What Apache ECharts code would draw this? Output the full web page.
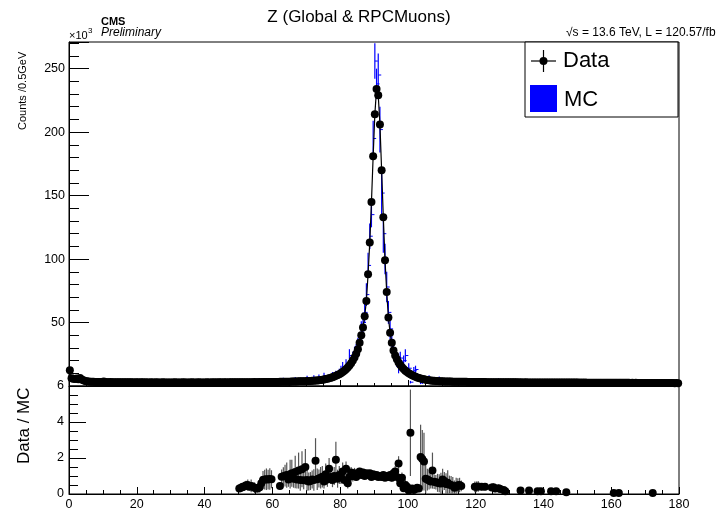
<!DOCTYPE html>
<html><head><meta charset="utf-8">
<script src="https://cdn.jsdelivr.net/npm/echarts@6/dist/echarts.min.js"></script>
<style>html,body{margin:0;padding:0;background:#fff}#c{width:718px;height:512px}</style>
</head><body><div id="c"></div>
<script>
// ---- Data (counts in units of 10^3 per 0.5 GeV bin, bins 0..180 GeV) ----
const binWidth = 0.5;
const dataCounts = [
  12.5, 6.2, 5.8, 5.6, 6.0, 5.4, 6.4, 5.2, 4.6, 4.0, 3.7, 3.5, 3.4, 3.3, 3.3, 3.2, 3.2, 3.1, 3.1, 3.0,
  3.6, 3.1, 3.0, 3.0, 3.1, 3.0, 2.9, 3.0, 3.0, 2.9, 3.0, 2.9, 2.9, 3.0, 2.9, 2.9, 3.0, 2.9, 2.8, 2.9,
  2.9, 2.8, 2.9, 2.9, 2.8, 2.9, 2.8, 2.8, 2.9, 2.8, 2.8, 2.9, 2.8, 2.8, 2.8, 2.9, 2.8, 2.8, 2.8, 2.8,
  2.8, 2.8, 2.9, 2.8, 2.8, 2.8, 2.8, 2.9, 2.8, 2.8, 2.8, 2.8, 2.9, 2.8, 2.8, 2.8, 2.9, 2.8, 2.8, 2.8,
  2.8, 2.9, 2.8, 2.8, 2.9, 2.8, 2.9, 2.8, 2.9, 2.9, 2.8, 2.9, 2.9, 2.8, 2.9, 2.9, 2.9, 2.9, 2.9, 3.0,
  2.9, 3.0, 2.9, 3.0, 3.0, 2.9, 3.0, 3.0, 3.0, 3.1, 3.0, 3.0, 3.1, 3.0, 3.1, 3.1, 3.1, 3.1, 3.2, 3.1,
  3.2, 3.2, 3.2, 3.2, 3.3, 3.3, 3.3, 3.3, 3.4, 3.4, 3.4, 3.45, 3.5, 3.55, 3.6, 3.65, 3.7, 3.7, 3.75, 3.8,
  3.85, 3.9, 4.0, 4.1, 4.2, 4.3, 4.4, 4.6, 4.8, 5.0, 5.2, 5.5, 5.8, 6.1, 6.5, 6.9, 7.4, 8.0, 8.6, 9.3,
  10.1, 11.0, 12.0, 13.2, 14.6, 16.2, 18.0, 20.0, 22.5, 25.5, 29, 34, 40, 46, 55, 67, 88, 113, 145, 181,
  214, 234, 229, 206, 170, 133, 99, 74, 54, 42, 34, 28, 24, 21, 18.5, 16.5, 14.8, 13.3, 12.0, 11.0,
  10.0, 9.2, 8.4, 7.8, 7.2, 6.7, 6.3, 5.9, 5.6, 5.3, 5.0, 4.8, 4.6, 4.4, 4.2, 4.1, 4.0, 3.9, 3.8, 3.7,
  3.65, 3.6, 3.55, 3.5, 3.5, 3.45, 3.4, 3.4, 3.35, 3.35, 3.3, 3.3, 3.3, 3.25, 3.25, 3.2, 3.2, 3.2, 3.2, 3.15,
  3.15, 3.1, 3.1, 3.1, 3.1, 3.1, 3.05, 3.05, 3.0, 3.0, 3.0, 3.0, 3.0, 3.0, 2.95, 3.0, 2.95, 2.95, 2.9, 2.95,
  2.9, 2.9, 2.9, 2.9, 2.9, 2.85, 2.9, 2.85, 2.85, 2.9, 2.85, 2.85, 2.85, 2.8, 2.85, 2.8, 2.8, 2.85, 2.8, 2.8,
  2.8, 2.8, 2.8, 2.75, 2.8, 2.75, 2.8, 2.75, 2.75, 2.75, 2.75, 2.7, 2.75, 2.7, 2.75, 2.7, 2.7, 2.7, 2.7, 2.7,
  2.7, 2.65, 2.7, 2.65, 2.7, 2.65, 2.65, 2.65, 2.6, 2.65, 2.6, 2.65, 2.6, 2.6, 2.6, 2.6, 2.55, 2.6, 2.55, 2.6,
  2.55, 2.55, 2.55, 2.5, 2.55, 2.5, 2.55, 2.5, 2.5, 2.5, 2.5, 2.45, 2.5, 2.45, 2.5, 2.45, 2.45, 2.45, 2.4, 2.45,
  2.4, 2.45, 2.4, 2.4, 2.4, 2.35, 2.4, 2.35, 2.35, 2.35, 2.35, 2.3, 2.35, 2.3, 2.3, 2.3, 2.3, 2.25, 2.3, 2.25
];

// MC (blue, with error bars) where visible
const mcX = [52.25, 55.75, 58.25, 63.25, 66.75, 70.25, 72.25, 73.75, 75.25, 76.25, 76.75, 77.25, 77.75, 78.25, 78.75, 79.25, 79.75,
  80.25, 80.75, 81.25, 81.75, 82.25, 82.75, 83.25, 83.75, 84.25, 84.75, 85.25, 85.75, 86.25, 86.75, 87.25, 87.75, 88.25, 88.75,
  89.25, 89.75, 90.25, 90.75, 91.25, 91.75, 92.25, 92.75, 93.25, 93.75, 94.25, 94.75, 95.25, 95.75, 96.25, 96.75, 97.25, 97.75,
  98.25, 98.75, 99.25, 99.75, 100.25, 100.75, 101.25, 101.75, 102.25, 102.75, 103.25, 103.75, 104.25, 106.25, 109.25, 126.75];
const mcY = [4.0, 4.5, 4.2, 5.0, 5.5, 6.0, 6.5, 7.0, 8.0, 6.5, 5.0, 7.5, 8.5, 8.0, 9.5, 9.0, 10.5,
  12, 14, 13, 16, 15, 24, 19, 22, 25, 28, 32, 36, 44, 50, 58, 72, 95, 118,
  135, 195, 256, 238, 245, 202, 152, 120, 100, 78, 58, 45, 34, 29, 24, 20, 14, 22,
  16, 20, 24, 12, 14, 3, 9, 12, 13, 8, 6, 3, 3, 6.5, 5.5, 4.5];
const mcErr = [1.5, 1.5, 1.5, 1.5, 1.5, 2, 2, 2, 2.5, 1.5, 1.5, 2, 2.5, 2, 2.5, 2.5, 3,
  4, 5, 3, 5, 4, 5, 4, 5, 6, 5, 6, 6, 7, 8, 8, 9, 10, 10,
  10, 14, 14, 12, 17, 18, 18, 15, 12, 12, 9, 8, 6, 6, 5, 5, 4, 5,
  4, 4, 5, 3, 4, 1, 3, 3, 3, 2, 2, 1.5, 1.5, 2, 2, 1.5];

// Ratio Data / MC
const ratioX = [50.25, 50.75, 51.25, 51.75, 52.25, 52.75, 53.25, 53.75, 54.25, 54.75, 55.25, 55.75, 56.25, 56.75, 57.25, 57.75, 58.25, 58.75, 59.25, 59.75,
  62.25, 62.75, 63.25, 63.75, 64.25, 64.75, 65.25, 65.75, 66.25, 66.75, 67.25, 67.75, 68.25, 68.75, 69.25, 69.75,
  70.25, 70.75, 71.25, 71.75, 72.25, 72.75, 73.25, 73.75, 74.25, 74.75, 75.25, 75.75, 76.25, 76.75, 77.25, 77.75, 78.25, 78.75, 79.25, 79.75,
  80.25, 80.75, 81.25, 81.75, 82.25, 82.75, 83.25, 83.75, 84.25, 84.75, 85.25, 85.75, 86.25, 86.75, 87.25, 87.75, 88.25, 88.75, 89.25, 89.75,
  90.25, 90.75, 91.25, 91.75, 92.25, 92.75, 93.25, 93.75, 94.25, 94.75, 95.25, 95.75, 96.25, 96.75, 97.25, 97.75, 98.25, 98.75, 99.25, 99.75,
  100.25, 100.75, 101.25, 101.75, 102.25, 102.75, 103.25, 103.75, 104.25, 104.75, 105.25, 105.75, 106.25, 106.75, 107.25, 107.75, 108.25, 108.75, 109.25, 109.75,
  110.25, 110.75, 111.25, 111.75, 112.25, 112.75, 113.25, 113.75, 114.25, 114.75, 115.25, 115.75,
  119.75, 120.25, 120.75, 121.75, 122.75, 124.75, 125.25, 125.75, 126.75, 127.25, 128.25, 128.75,
  133.25, 135.75, 138.25, 139.25, 142.25, 143.75, 146.75, 160.75, 162.25, 172.25];
const ratioY = [0.30, 0.35, 0.40, 0.42, 0.48, 0.50, 0.40, 0.45, 0.40, 0.35, 0.30, 0.32, 0.38, 0.60, 0.78, 0.80, 0.82, 0.80, 0.83, 0.82,
  0.44, 0.96, 0.98, 1.02, 1.05, 0.80, 1.10, 1.15, 0.85, 1.22, 0.80, 1.30, 0.78, 1.38, 0.76, 1.50,
  0.78, 0.70, 0.72, 0.80, 0.78, 1.85, 0.82, 0.86, 0.90, 0.96, 0.70, 1.10, 0.80, 1.40, 0.95, 0.78, 1.00, 1.90, 0.85, 1.05,
  0.95, 1.25, 0.78, 1.40, 0.60, 0.95, 1.20, 1.00, 1.15, 0.95, 1.10, 1.25, 1.05, 1.20, 1.00, 1.15, 1.05, 1.15, 0.95, 1.10,
  1.00, 1.05, 0.95, 1.00, 0.95, 1.05, 0.90, 1.00, 0.95, 1.05, 0.90, 1.15, 1.25, 0.95, 1.70, 0.60, 0.90, 0.32, 0.50, 0.40,
  0.20, 3.40, 0.30, 0.22, 0.28, 0.35, 0.30, 2.05, 1.95, 1.80, 0.85, 0.80, 0.75, 0.70, 1.30, 0.68, 0.65, 0.62, 0.60, 0.58,
  0.80, 0.72, 0.55, 0.62, 0.52, 0.50, 0.45, 0.35, 0.40, 0.48, 0.50, 0.45,
  0.40, 0.40, 0.42, 0.40, 0.40, 0.36, 0.38, 0.30, 0.32, 0.28, 0.22, 0.15,
  0.20, 0.20, 0.15, 0.15, 0.15, 0.15, 0.10, 0.05, 0.05, 0.05];
const ratioErr = [0.15, 0.2, 0.2, 0.25, 0.25, 0.3, 0.2, 0.35, 0.25, 0.3, 0.2, 0.25, 0.3, 0.4, 0.5, 0.55, 0.6, 0.55, 0.6, 0.5,
  0.2, 0.4, 0.5, 0.6, 0.7, 0.4, 0.8, 0.75, 0.5, 0.9, 0.5, 1.0, 0.6, 1.0, 0.5, 1.0,
  0.6, 0.5, 0.5, 0.5, 0.6, 1.25, 0.6, 0.5, 0.6, 0.6, 0.4, 0.6, 0.4, 0.6, 0.4, 0.4, 0.5, 1.0, 0.5, 0.5,
  0.4, 0.5, 0.3, 0.4, 0.3, 0.3, 0.3, 0.3, 0.3, 0.2, 0.2, 0.2, 0.2, 0.2, 0.15, 0.15, 0.1, 0.1, 0.1, 0.1,
  0.1, 0.1, 0.1, 0.1, 0.1, 0.1, 0.15, 0.15, 0.2, 0.2, 0.2, 0.25, 0.3, 0.3, 0.4, 0.3, 0.3, 0.2, 0.3, 0.3,
  0.2, 2.4, 0.2, 0.15, 0.2, 0.2, 0.2, 1.8, 1.6, 1.6, 0.8, 0.6, 0.5, 0.4, 1.0, 0.4, 0.4, 0.5, 0.5, 0.6,
  0.6, 0.5, 0.6, 0.7, 0.5, 0.5, 0.5, 0.4, 0.5, 0.4, 0.4, 0.3,
  0.3, 0.3, 0.3, 0.2, 0.2, 0.2, 0.2, 0.2, 0.2, 0.2, 0.15, 0.1,
  0.1, 0.1, 0.1, 0.1, 0.1, 0.1, 0.1, 0.05, 0.05, 0.05];

// tick labels
const topYTicks = [50, 100, 150, 200, 250];
const ratioYTicks = [0, 2, 4, 6];
const xTicks = [0, 20, 40, 60, 80, 100, 120, 140, 160, 180];

const FONT = '"Liberation Sans", Arial, Helvetica, sans-serif';
const dataPts = dataCounts.map((v, i) => [i * binWidth + binWidth / 2, v]);
const mcPts = mcX.map((x, i) => [x, mcY[i], mcErr[i]]);
const ratioPts = ratioX.map((x, i) => [x, ratioY[i], ratioErr[i]]);

function errBar(color, cap, yMax) {
  return function (params, api) {
    const x = api.value(0), y = api.value(1), e = api.value(2);
    const top = api.coord([x, Math.min(y + e, yMax)]);
    const bot = api.coord([x, Math.max(y - e, 0)]);
    const c = api.coord([x, y]);
    const ch = [{ type: 'line', shape: { x1: top[0], y1: top[1], x2: bot[0], y2: bot[1] }, style: { stroke: color, lineWidth: 1.2 } }];
    if (cap) ch.push({ type: 'line', shape: { x1: c[0], y1: c[1], x2: c[0] + 3, y2: c[1] }, style: { stroke: color, lineWidth: 1 } });
    return { type: 'group', children: ch };
  };
}

const chart = echarts.init(document.getElementById('c'), null, { renderer: 'canvas' });
const axisLine = { show: true, lineStyle: { color: '#000', width: 1 } };
chart.setOption({
  animation: false,
  backgroundColor: '#fff',
  textStyle: { fontFamily: FONT },
  grid: [
    { left: 69, top: 42, width: 610, height: 344, show: true, borderColor: '#000', borderWidth: 1, backgroundColor: 'transparent' },
    { left: 69, top: 386, width: 610, height: 108, show: true, borderColor: '#000', borderWidth: 1, backgroundColor: 'transparent' }
  ],
  xAxis: [
    { gridIndex: 0, type: 'value', min: 0, max: 180, interval: 20, axisLine,
      axisTick: { inside: true, length: 6, lineStyle: { color: '#000' } },
      minorTick: { show: true, splitNumber: 4, length: 3, lineStyle: { color: '#000' } },
      axisLabel: { show: false }, splitLine: { show: false } },
    { gridIndex: 1, type: 'value', min: 0, max: 180, interval: 20, axisLine,
      axisTick: { inside: true, length: 7, lineStyle: { color: '#000' } },
      minorTick: { show: true, splitNumber: 4, length: 4, lineStyle: { color: '#000' } },
      axisLabel: { color: '#000', fontSize: 12.5, margin: 4, fontFamily: FONT,
        formatter: v => xTicks.includes(v) ? String(v) : '' },
      splitLine: { show: false } }
  ],
  yAxis: [
    { gridIndex: 0, type: 'value', min: 0, max: 271, interval: 50, axisLine,
      axisTick: { inside: true, length: 20, lineStyle: { color: '#000' } },
      minorTick: { show: true, splitNumber: 5, length: 10, lineStyle: { color: '#000' } },
      axisLabel: { color: '#000', fontSize: 12.5, margin: 4, fontFamily: FONT,
        formatter: v => topYTicks.includes(v) ? String(v) : '' },
      splitLine: { show: false } },
    { gridIndex: 1, type: 'value', min: 0, max: 6, interval: 2, axisLine,
      axisTick: { inside: true, length: 17, lineStyle: { color: '#000' } },
      minorTick: { show: true, splitNumber: 4, length: 9, lineStyle: { color: '#000' } },
      axisLabel: { color: '#000', fontSize: 12.5, margin: 5, fontFamily: FONT,
        formatter: v => ratioYTicks.includes(v) ? String(v) : '' },
      splitLine: { show: false } }
  ],
  series: [
    { name: 'MC', type: 'custom', xAxisIndex: 0, yAxisIndex: 0, renderItem: errBar('#0000ff', true, 271),
      data: mcPts, encode: { x: 0, y: 1 }, z: 2 },
    { name: 'Data', type: 'line', xAxisIndex: 0, yAxisIndex: 0, data: dataPts,
      symbol: 'circle', symbolSize: 8, showAllSymbol: true, lineStyle: { color: '#000', width: 1.2 },
      itemStyle: { color: '#000', opacity: 1 }, z: 3 },
    { name: 'RatioErr', type: 'custom', xAxisIndex: 1, yAxisIndex: 1, renderItem: errBar('#555', false, 6),
      data: ratioPts, encode: { x: 0, y: 1 }, z: 2 },
    { name: 'Ratio', type: 'scatter', xAxisIndex: 1, yAxisIndex: 1, data: ratioPts.map(p => [p[0], p[1]]),
      symbol: 'circle', symbolSize: 8, itemStyle: { color: '#000', opacity: 1 }, z: 3 }
  ],
  graphic: [
    { type: 'text', left: 'center', top: 9, style: { text: 'Z (Global & RPCMuons)', font: '17px ' + FONT, fill: '#000' } },
    { type: 'text', x: 101, y: 16, style: { text: 'CMS', font: 'bold 11px ' + FONT, fill: '#000' } },
    { type: 'text', x: 101, y: 27, style: { text: 'Preliminary', font: 'italic 12px ' + FONT, fill: '#000' } },
    { type: 'text', x: 69, y: 30, style: { text: '×10', font: '11px ' + FONT, fill: '#000' } },
    { type: 'text', x: 88, y: 27, style: { text: '3', font: '8px ' + FONT, fill: '#000' } },
    { type: 'text', x: 566, y: 27, style: { text: '√s = 13.6 TeV, L = 120.57/fb', font: '12px ' + FONT, fill: '#000' } },
    { type: 'text', x: 17, y: 130, rotation: Math.PI / 2, style: { text: 'Counts /0.5GeV', font: '11px ' + FONT, fill: '#000' } },
    { type: 'text', x: 16, y: 464, rotation: Math.PI / 2, style: { text: 'Data / MC', font: '17px ' + FONT, fill: '#000' } },
    // legend box
    { type: 'rect', shape: { x: 525, y: 42, width: 153, height: 75 }, style: { fill: '#fff', stroke: '#000', lineWidth: 1 }, z: 10 },
    { type: 'line', shape: { x1: 531, y1: 61, x2: 556, y2: 61 }, style: { stroke: '#000', lineWidth: 1.2 }, z: 11 },
    { type: 'line', shape: { x1: 543.5, y1: 50, x2: 543.5, y2: 72 }, style: { stroke: '#000', lineWidth: 1.2 }, z: 11 },
    { type: 'circle', shape: { cx: 543.5, cy: 61, r: 4 }, style: { fill: '#000' }, z: 11 },
    { type: 'text', x: 563, y: 50, style: { text: 'Data', font: '22px ' + FONT, fill: '#000' }, z: 11 },
    { type: 'rect', shape: { x: 530, y: 85, width: 27, height: 27 }, style: { fill: '#0000ff' }, z: 11 },
    { type: 'text', x: 564, y: 89, style: { text: 'MC', font: '22px ' + FONT, fill: '#000' }, z: 11 }
  ]
});
</script></body></html>
